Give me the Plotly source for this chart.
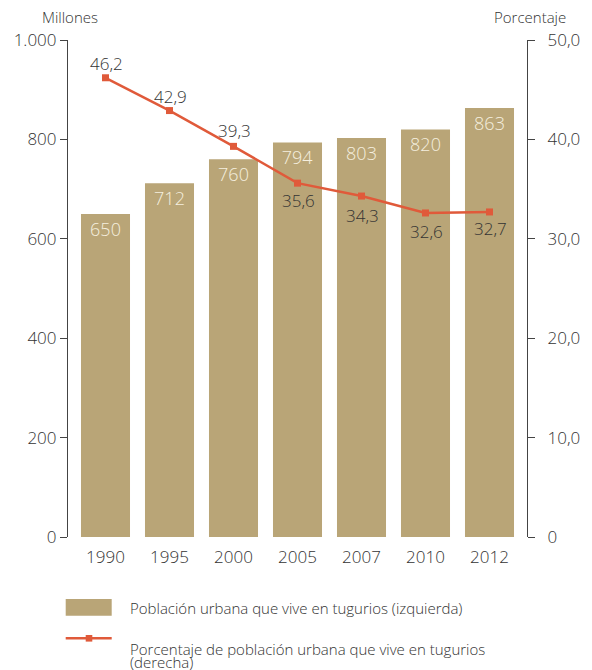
import plotly.graph_objects as go

years = ["1990", "1995", "2000", "2005", "2007", "2010", "2012"]
population = [650, 712, 760, 794, 803, 820, 863]
percentage = [46.2, 42.9, 39.3, 35.6, 34.3, 32.6, 32.7]
pct_labels = ["46,2", "42,9", "39,3", "35,6", "34,3", "32,6", "32,7"]
left_ticks = [0, 200, 400, 600, 800, 1000]
left_ticktext = ["0", "200", "400", "600", "800", "1.000"]
right_ticks = [0, 10, 20, 30, 40, 50]
right_ticktext = ["0", "10,0", "20,0", "30,0", "40,0", "50,0"]

# label offsets (style, pixels)
LABEL_SHIFT = [14, 14, 16, -17, -19, -19, -17]

BAR = "#b9a577"
LINE = "#e05a3a"
TXT = "#333333"
FONT = "Open Sans"
W, H = 584, 662
ML, MR, MT, MB = 60, 65, 32, 133
PW, PH = W - ML - MR, H - MT - MB


def px(xf):
    return (xf - ML) / PW


def py(yf):
    return (H - MB - yf) / PH


fig = go.Figure()
fig.add_trace(go.Bar(
    x=list(range(len(years))), y=population,
    marker=dict(color=BAR, line=dict(width=0)),
    text=[str(v) for v in population], textposition="inside",
    insidetextanchor="end",
    textfont=dict(color="#f5efdf", size=18, family=FONT, weight=300),
    name="Población urbana que vive en tugurios (izquierda)",
    yaxis="y", showlegend=False, hoverinfo="skip",
))
fig.add_trace(go.Scatter(
    x=list(range(len(years))), y=percentage,
    mode="lines+markers",
    line=dict(color=LINE, width=2.5),
    marker=dict(symbol="square", size=7, color=LINE),
    name="Porcentaje de población urbana que vive en tugurios (derecha)",
    yaxis="y2", showlegend=False, hoverinfo="skip", cliponaxis=False,
))

for i, (v, lab, shift) in enumerate(zip(percentage, pct_labels, LABEL_SHIFT)):
    fig.add_annotation(x=i, y=v, xref="x", yref="y2", text=lab, showarrow=False,
                       xanchor="center", yanchor="middle",
                       yshift=shift, xshift=1,
                       font=dict(size=17, color=TXT, family=FONT, weight=300))

fig.update_layout(
    width=W, height=H,
    margin=dict(l=ML, r=MR, t=MT, b=MB, autoexpand=False),
    paper_bgcolor="white", plot_bgcolor="white",
    font=dict(family=FONT, color=TXT, size=16, weight=300),
    bargap=0.234,
    separators=",.",
    uniformtext=dict(mode=False),
    xaxis=dict(
        tickmode="array", tickvals=list(range(len(years))), ticktext=years,
        range=[-0.586, 6.586], showline=False, showgrid=False, zeroline=False,
        ticks="", ticklabelstandoff=8,
        tickfont=dict(size=17, color=TXT, family=FONT, weight=300),
        automargin=False,
    ),
    yaxis=dict(
        range=[0, 1000], tickmode="array", tickvals=left_ticks, ticktext=left_ticktext,
        showline=True, linecolor="#444", linewidth=1.2, showgrid=False, zeroline=False,
        ticks="outside", ticklen=7, tickcolor="#444", tickwidth=1.2,
        tickfont=dict(size=17, color=TXT, family=FONT, weight=300),
        automargin=False,
    ),
    yaxis2=dict(
        range=[0, 50], overlaying="y", side="right",
        tickmode="array", tickvals=right_ticks, ticktext=right_ticktext,
        showline=True, linecolor="#444", linewidth=1.2, showgrid=False, zeroline=False,
        ticks="outside", ticklen=7, tickcolor="#444", tickwidth=1.2,
        ticklabelstandoff=9,
        tickfont=dict(size=17, color=TXT, family=FONT, weight=300),
        automargin=False,
    ),
)

# axis titles
fig.add_annotation(text="Millones", xref="paper", yref="paper", x=px(62), y=1.0,
                   yshift=23, xanchor="center", yanchor="middle", showarrow=False,
                   font=dict(size=15, color=TXT, family=FONT, weight=300))
fig.add_annotation(text="Porcentaje", xref="paper", yref="paper", x=px(522), y=1.0,
                   yshift=23, xanchor="center", yanchor="middle", showarrow=False,
                   font=dict(size=15, color=TXT, family=FONT, weight=300))

# custom legend
fig.add_shape(type="rect", xref="paper", yref="paper",
              x0=px(57.7), x1=px(103.7), y0=py(607.7), y1=py(591),
              fillcolor=BAR, line=dict(width=0))
fig.add_shape(type="line", xref="paper", yref="paper",
              x0=px(57.7), x1=px(103.7), y0=py(630.3), y1=py(630.3),
              line=dict(color=LINE, width=2.5))
fig.add_shape(type="rect", xref="paper", yref="paper",
              x0=px(77.7), x1=px(84.3), y0=py(633.6), y1=py(627),
              fillcolor=LINE, line=dict(width=0))
fig.add_annotation(text="Población urbana que vive en tugurios (izquierda)",
                   xref="paper", yref="paper", x=px(119.7), y=py(599.5),
                   xanchor="left", yanchor="middle", showarrow=False,
                   font=dict(size=15, color=TXT, family=FONT, weight=300))
fig.add_annotation(text="Porcentaje de población urbana que vive en tugurios",
                   xref="paper", yref="paper", x=px(119.7), y=py(640.5),
                   xanchor="left", yanchor="middle", showarrow=False,
                   font=dict(size=15, color=TXT, family=FONT, weight=300))
fig.add_annotation(text="(derecha)",
                   xref="paper", yref="paper", x=px(119.7), y=py(654),
                   xanchor="left", yanchor="middle", showarrow=False,
                   font=dict(size=15, color=TXT, family=FONT, weight=300))

fig.write_html("out.html")
